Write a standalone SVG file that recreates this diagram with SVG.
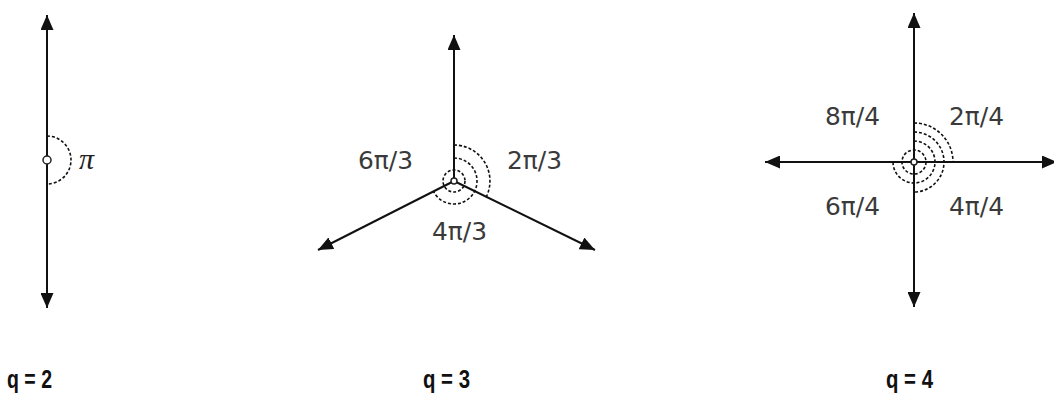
<svg xmlns="http://www.w3.org/2000/svg" width="1054" height="394" viewBox="0 0 1054 394">
  <style>
    .ax { stroke: #111; stroke-width: 2; fill: none; marker-start: url(#ah); marker-end: url(#ah); }
    .ray { stroke: #111; stroke-width: 2; fill: none; marker-end: url(#ah); }
    .arc { stroke: #111; stroke-width: 1.6; fill: none; stroke-dasharray: 3 2; }
    .hub { fill: #fff; stroke: #222; stroke-width: 1.5; }
    .lbl { font-family: "DejaVu Sans", "Liberation Sans", sans-serif; font-size: 24px; fill: #3a3a3a; }
    .pi { font-family: "Liberation Serif", serif; font-style: italic; font-size: 30px; fill: #222; }
    .q { font-family: "Liberation Sans", Arial, sans-serif; font-weight: bold; font-size: 25px; fill: #111; }
  </style>
  <defs>
    <marker id="ah" markerUnits="userSpaceOnUse" markerWidth="15" markerHeight="13" refX="15" refY="6.5" orient="auto-start-reverse">
      <path d="M0,0 L15,6.5 L0,13 Z" fill="#111"/>
    </marker>
  </defs>
  <rect width="1054" height="394" fill="#fff"/>

  <g id="connectors">
    <line class="ax" x1="47" y1="15" x2="47" y2="308"/>
    <line class="ray" x1="454" y1="181" x2="454" y2="35"/>
    <line class="ray" x1="454" y1="181" x2="318" y2="250"/>
    <line class="ray" x1="454" y1="181" x2="595" y2="250"/>
    <line class="ax" x1="914" y1="13" x2="914" y2="307"/>
    <line class="ax" x1="765" y1="162" x2="1057" y2="162"/>
  </g>

  <g id="q2">
    <path class="arc" d="M47,136 A24,24 0 0 1 47,184"/>
    <circle class="hub" cx="47" cy="160" r="4"/>
    <text class="pi" x="79" y="169">π</text>
    <text class="q" x="7" y="388" textLength="45" lengthAdjust="spacingAndGlyphs">q = 2</text>
  </g>

  <g id="q3">
    <circle class="arc" cx="454" cy="181" r="11"/>
    <path class="arc" d="M454,158 A23,23 0 1 1 433.5,191.4"/>
    <path class="arc" d="M454,145 A36,36 0 0 1 486.3,196.8"/>
    <circle class="hub" cx="454" cy="181" r="3"/>
    <text class="lbl" x="358" y="169" textLength="55" lengthAdjust="spacingAndGlyphs">6π/3</text>
    <text class="lbl" x="507" y="169" textLength="55" lengthAdjust="spacingAndGlyphs">2π/3</text>
    <text class="lbl" x="432" y="240" textLength="55" lengthAdjust="spacingAndGlyphs">4π/3</text>
    <text class="q" x="423" y="388" textLength="47" lengthAdjust="spacingAndGlyphs">q = 3</text>
  </g>

  <g id="q4">
    <circle class="arc" cx="914" cy="162" r="12"/>
    <path class="arc" d="M914,141 A21,21 0 1 1 893,162"/>
    <path class="arc" d="M914,132 A30,30 0 0 1 914,192"/>
    <path class="arc" d="M914,123 A39,39 0 0 1 953,162"/>
    <circle class="hub" cx="914" cy="162" r="3"/>
    <text class="lbl" x="825" y="125" textLength="55" lengthAdjust="spacingAndGlyphs">8π/4</text>
    <text class="lbl" x="949" y="125" textLength="55" lengthAdjust="spacingAndGlyphs">2π/4</text>
    <text class="lbl" x="825" y="215" textLength="55" lengthAdjust="spacingAndGlyphs">6π/4</text>
    <text class="lbl" x="949" y="215" textLength="55" lengthAdjust="spacingAndGlyphs">4π/4</text>
    <text class="q" x="886" y="388" textLength="47" lengthAdjust="spacingAndGlyphs">q = 4</text>
  </g>
</svg>
